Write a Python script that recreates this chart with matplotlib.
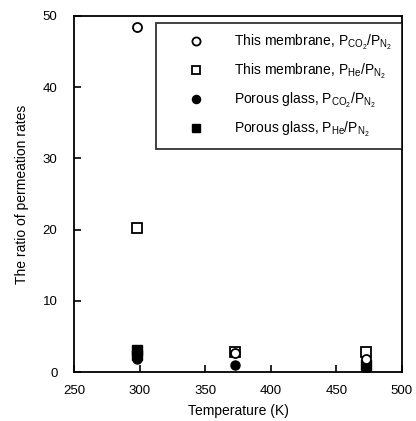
import matplotlib.pyplot as plt

# temperatures (K) and permeation-rate ratios
mem_co2_T = [298, 373, 473]
mem_co2 = [48.5, 2.7, 1.8]
mem_he_T = [298, 373, 473]
mem_he = [20.3, 2.8, 2.9]
pg_co2_T = [298, 373, 473]
pg_co2 = [1.8, 1.0, 0.6]
pg_he_T = [298, 298, 473]
pg_he = [3.1, 2.4, 1.0]

plt.rcParams['font.family'] = ['Liberation Sans', 'DejaVu Sans']
plt.rcParams['mathtext.fontset'] = 'custom'
plt.rcParams['mathtext.rm'] = 'Liberation Sans'
plt.rcParams['mathtext.it'] = 'Liberation Sans'

fig = plt.figure(figsize=(4.16, 4.21), dpi=100)
ax = fig.add_axes([0.178, 0.116, 0.788, 0.846])

ms = 6.5
ax.plot(pg_he_T, pg_he, 's', color='black', ms=ms, label=r'Porous glass, $P_{\mathrm{He}}/P_{\mathrm{N_2}}$')
ax.plot(pg_co2_T, pg_co2, 'o', color='black', ms=ms, label=r'Porous glass, $P_{\mathrm{CO_2}}/P_{\mathrm{N_2}}$')
ax.plot(mem_he_T, mem_he, 's', mfc='white', mec='black', mew=1.3, ms=ms,
        label=r'This membrane, $P_{\mathrm{He}}/P_{\mathrm{N_2}}$')
ax.plot(mem_co2_T, mem_co2, 'o', mfc='white', mec='black', mew=1.3, ms=ms,
        label=r'This membrane, $P_{\mathrm{CO_2}}/P_{\mathrm{N_2}}$')

ax.set_xlim(250, 500)
ax.set_ylim(0, 50)
ax.set_xticks([250, 300, 350, 400, 450, 500])
ax.set_yticks([0, 10, 20, 30, 40, 50])
ax.tick_params(direction='in', length=5, width=1.2, labelsize=9.5)
ax.tick_params(axis='x', pad=9)
ax.tick_params(axis='y', pad=12)
for s in ax.spines.values():
    s.set_linewidth(1.3)

ax.set_xlabel('Temperature (K)', fontsize=10, labelpad=5)
ax.set_ylabel('The ratio of permeation rates', fontsize=10, labelpad=10)

h, l = ax.get_legend_handles_labels()
leg = ax.legend(h[::-1], l[::-1], loc='upper right', bbox_to_anchor=(1.0, 0.98),
                fontsize=10, frameon=True, fancybox=False, edgecolor='black',
                borderpad=0.7, labelspacing=0.72, handlelength=4.3, handletextpad=0.6,
                borderaxespad=0, markerscale=0.9)
leg.get_frame().set_linewidth(1.3)

plt.savefig('out.png', dpi=100)
